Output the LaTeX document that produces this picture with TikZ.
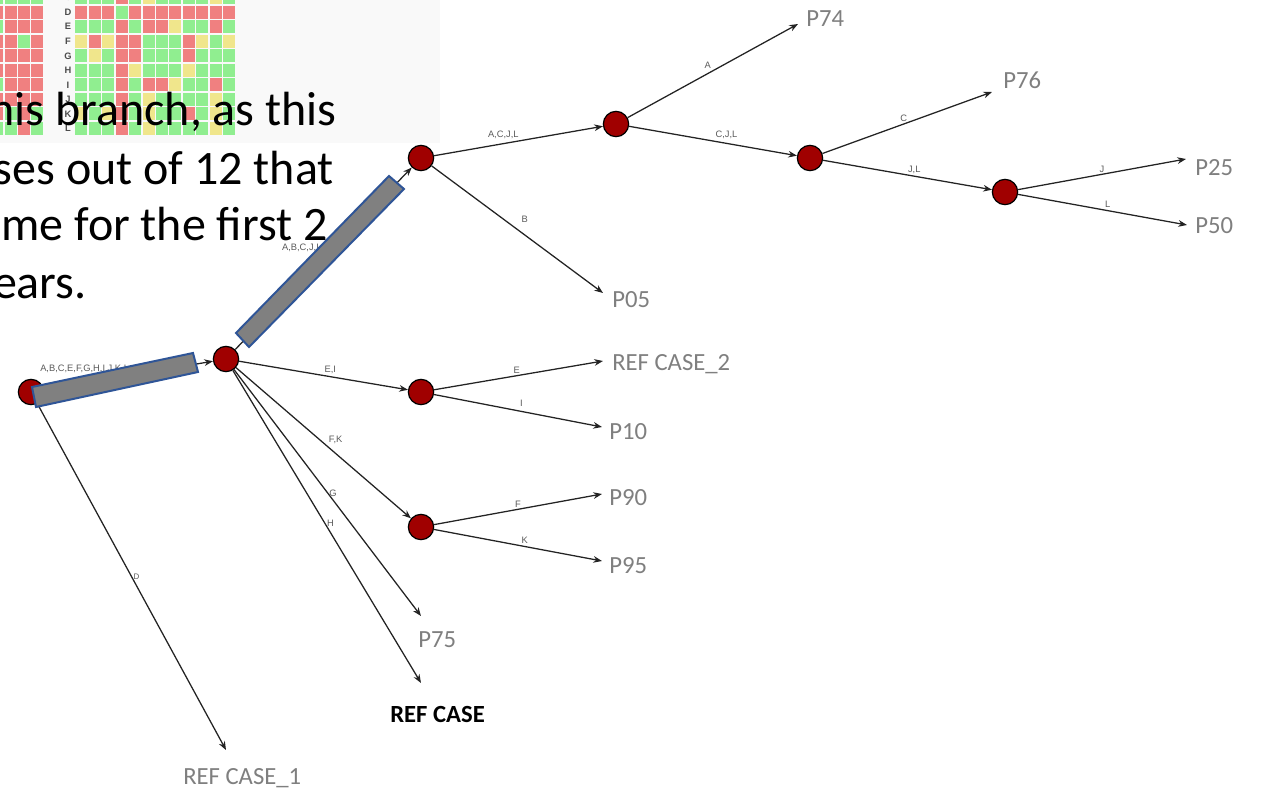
\documentclass[tikz,border=0pt]{standalone}
\usepackage{fontspec}
\setmainfont{Carlito}
\newfontfamily\smallsans{Liberation Sans}
\usetikzlibrary{arrows.meta}

\definecolor{hmR}{RGB}{240,128,128}
\definecolor{hmG}{RGB}{144,238,144}
\definecolor{hmY}{RGB}{240,230,140}
\definecolor{evred}{RGB}{160,0,0}
\definecolor{leafgray}{RGB}{127,127,127}
\definecolor{lblgray}{RGB}{90,90,90}
\definecolor{linegray}{RGB}{35,35,35}
\definecolor{barblue}{RGB}{47,85,151}
\definecolor{bargray}{RGB}{128,128,128}
\definecolor{panel}{RGB}{249,249,249}

\tikzset{
  evt/.style={circle, draw=black, line width=0.9pt, fill=evred, minimum size=19pt, inner sep=0pt},
  leaf/.style={anchor=base west, inner sep=0pt, text=leafgray, font=\fontsize{18.5}{20}\selectfont},
  br/.style={draw=linegray, line width=0.95pt, -{Stealth[length=6.5pt,width=5pt]}},
  lbl/.style={inner sep=1pt, text=lblgray, font=\smallsans\fontsize{7}{8}\selectfont},
  hbar/.style={fill=bargray, draw=barblue, line width=1.5pt},
  rowlbl/.style={inner sep=0pt, text=black!70, font=\smallsans\bfseries\fontsize{7}{8}\selectfont},
  big/.style={anchor=base east, inner sep=0pt, font=\fontsize{36}{42}\selectfont}
}

\begin{document}
\begin{tikzpicture}[x=0.75pt,y=-0.75pt]
\useasboundingbox (0,0) rectangle (1261,789);
\clip (0,0) rectangle (1261,789);

% heat map pasted on the slide
\fill[panel] (0,0) rectangle (440,143);
\foreach \r/\lcols/\rcols in {
 0/{G,G,G,G}/{G,G,G,R,G,Y,G,G,G,G,Y,G},
 1/{R,R,R,R}/{R,R,R,G,R,R,R,R,R,R,R,R},
 2/{G,R,R,R}/{G,G,G,R,G,R,R,Y,G,G,R,G},
 3/{R,R,G,R}/{Y,R,Y,R,R,G,G,G,R,Y,G,Y},
 4/{R,R,R,R}/{G,Y,G,R,R,G,G,G,R,G,G,G},
 5/{R,R,R,R}/{G,G,G,R,Y,G,G,G,Y,G,G,G},
 6/{G,R,R,R}/{G,G,G,R,G,R,R,Y,G,G,R,G},
 7/{R,R,R,R}/{G,G,G,R,G,Y,G,G,G,G,Y,G},
 8/{R,G,R,G}/{Y,G,Y,R,G,Y,G,G,R,G,Y,G},
 9/{G,G,R,G}/{G,G,G,R,G,Y,G,G,G,G,Y,G}}{
  \foreach \c [count=\i] in \lcols
    \fill[hm\c] ({-22.35+\i*13.45},{-8.84+\r*14.54}) rectangle ++(12,13);
  \foreach \c [count=\i] in \rcols
    \fill[hm\c] ({61.85+\i*13.45},{-8.84+\r*14.54}) rectangle ++(12,13);
}
\foreach \r/\t in {0/C,1/D,2/E,3/F,4/G,5/H,6/I,7/J,8/K,9/L}
  \node[rowlbl] (row\t) at (68,{-2.34+\r*14.54}) {\t};

% decision points
\node[evt] (n0) at (31,392) {};
\node[evt] (n1) at (226,359) {};
\node[evt] (n2) at (421,158) {};
\node[evt] (n3) at (616,124) {};
\node[evt] (n4) at (810,158) {};
\node[evt] (n5) at (1005,192) {};
\node[evt] (n6) at (421,392) {};
\node[evt] (n7) at (421,527) {};

% end cases
\node[leaf] (p74) at (806,26) {P74};
\node[leaf] (p76) at (1003,88) {P76};
\node[leaf] (p25) at (1195,175) {P25};
\node[leaf] (p50) at (1195,233) {P50};
\node[leaf] (p05) at (612,307) {P05};
\node[leaf] (ref2) at (612,370) {REF CASE\_2};
\node[leaf] (p10) at (609,439) {P10};
\node[leaf] (p90) at (609,505) {P90};
\node[leaf] (p95) at (609,573) {P95};
\node[leaf] (p75) at (418,647) {P75};
\node[leaf, text=black, font=\fontsize{18.5}{20}\selectfont\bfseries] (ref) at (390,722) {REF CASE};
\node[leaf] (ref1) at (183,784) {REF CASE\_1};

\coordinate (a74) at (798,24);
\coordinate (a76) at (992,92);
\coordinate (a25) at (1186,159);
\coordinate (a50) at (1187,225);
\coordinate (a05) at (603,293);
\coordinate (a2) at (603,361);
\coordinate (a10) at (602,427);
\coordinate (a90) at (602,494);
\coordinate (a95) at (602,561);
\coordinate (a75) at (421,616);
\coordinate (aref) at (421,683);
\coordinate (a1) at (226,750);

% branches
\draw[br] (n0) -- node[lbl, pos=0.24, above=6pt] {A,B,C,E,F,G,H,I,J,K,L} (n1);
\draw[br] (n0) -- node[lbl, pos=0.5, right=0pt, font=\smallsans\fontsize{6}{7}\selectfont] {D} (a1);
\draw[br] (n1) -- node[lbl, pos=0.56, left=8pt] {A,B,C,J,L} (n2);
\draw[br] (n1) -- node[lbl, pos=0.54, above=1pt] {E,I} (n6);
\draw[br] (n1) -- node[lbl, pos=0.52, above right=0pt] {F,K} (n7);
\draw[br] (n1) -- node[lbl, pos=0.5, right=0pt] {G} (a75);
\draw[br] (n1) -- node[lbl, pos=0.49, right=0pt] {H} (aref);
\draw[br] (n2) -- node[lbl, pos=0.41, above=2pt] {A,C,J,L} (n3);
\draw[br] (n2) -- node[lbl, pos=0.49, above right=3pt] {B} (a05);
\draw[br] (n3) -- node[lbl, pos=0.5, above left=0pt] {A} (a74);
\draw[br] (n3) -- node[lbl, pos=0.58, above=2pt] {C,J,L} (n4);
\draw[br] (n4) -- node[lbl, pos=0.48, above=0pt] {C} (a76);
\draw[br] (n4) -- node[lbl, pos=0.54, above=0.5pt] {J,L} (n5);
\draw[br] (n5) -- node[lbl, pos=0.5, above=0pt] {J} (a25);
\draw[br] (n5) -- node[lbl, pos=0.53, above=0.5pt] {L} (a50);
\draw[br] (n6) -- node[lbl, pos=0.49, above=0pt] {E} (a2);
\draw[br] (n6) -- node[lbl, pos=0.52, above=2pt] {I} (a10);
\draw[br] (n7) -- node[lbl, pos=0.5, above=0pt] {F} (a90);
\draw[br] (n7) -- node[lbl, pos=0.54, above=0.5pt] {K} (a95);

% highlight bars
\draw[hbar] (32,387) -- (193,353) -- (198,372) -- (36,407) -- cycle;
\draw[hbar] (236,333) -- (389,176) -- (404,189) -- (249,347) -- cycle;

% slide text
\node[big] (t1) at (337,125) {his branch, as this};
\node[big] (t2) at (334,184) {ses out of 12 that};
\node[big] (t3) at (328,240) {me for the first 2};
\node[big] (t4) at (87,298) {ears.};
\end{tikzpicture}
\end{document}
